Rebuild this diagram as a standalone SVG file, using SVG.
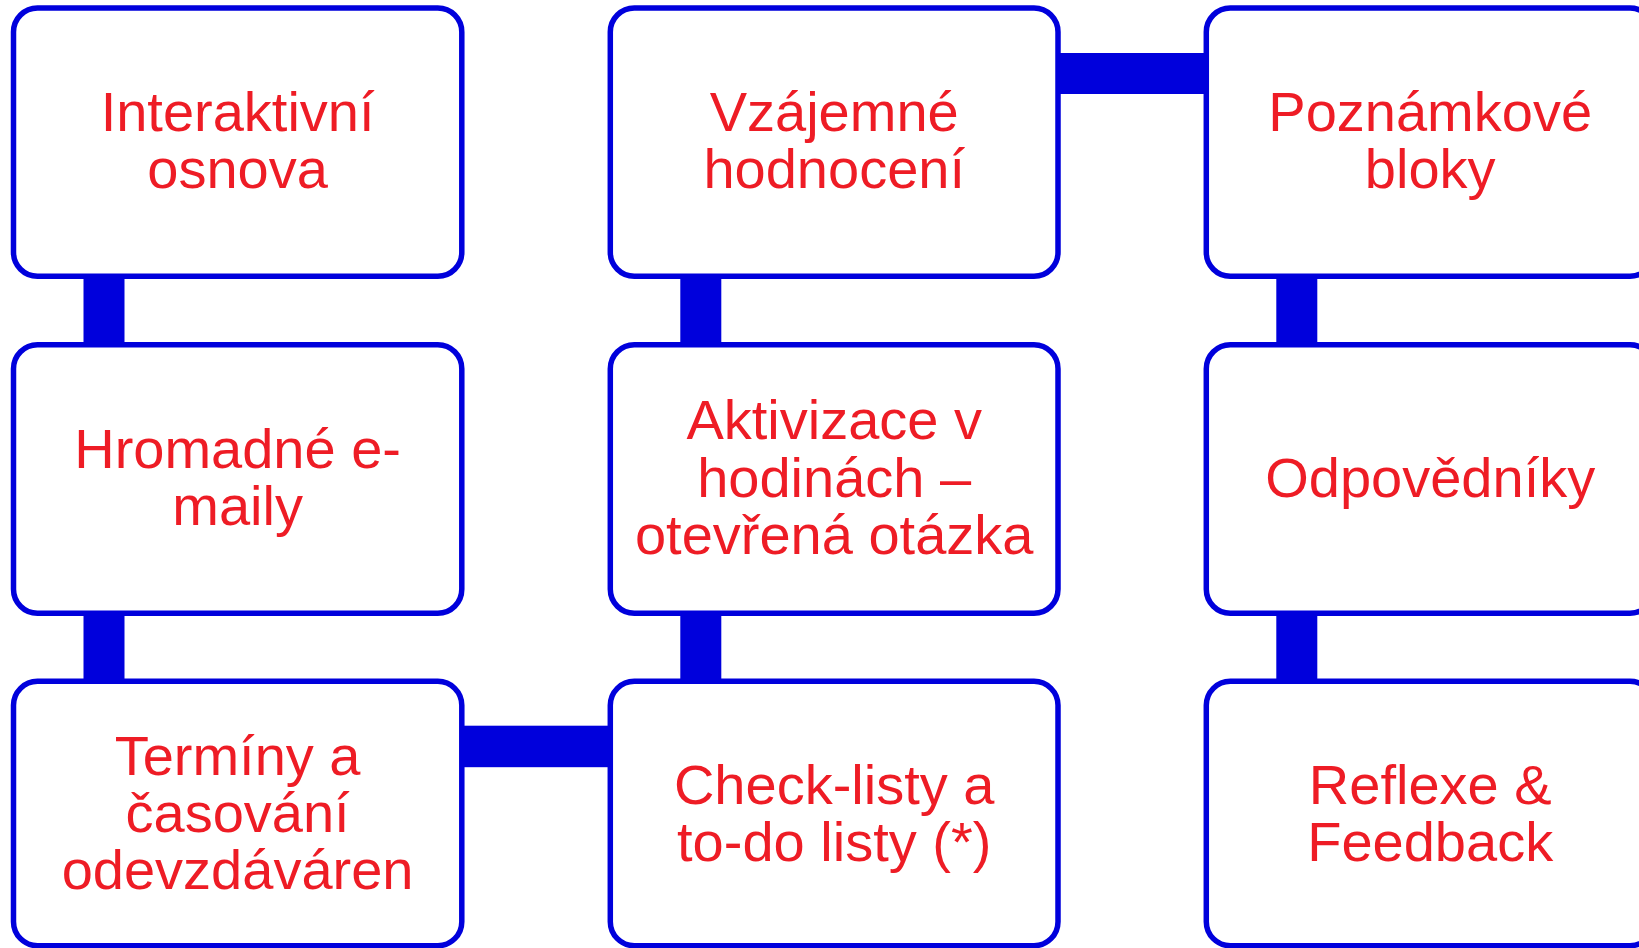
<svg xmlns="http://www.w3.org/2000/svg" width="1639" height="948" viewBox="0 0 1639 948">
<style>
.box{fill:#fff;stroke:#0000DC;stroke-width:5.5}
.con{fill:#0000DC}
.t{font-family:"Liberation Sans",Arial,sans-serif;font-size:56px;fill:#EE1C25;text-anchor:middle}
</style>
<rect width="1639" height="948" fill="#fff"/>
<g id="connectors">
<rect class="con" x="83.5" y="276" width="41" height="69"/>
<rect class="con" x="83.5" y="613" width="41" height="69"/>
<rect class="con" x="680.3" y="276" width="41" height="69"/>
<rect class="con" x="680.3" y="613" width="41" height="69"/>
<rect class="con" x="1276.3" y="276" width="41" height="69"/>
<rect class="con" x="1276.3" y="613" width="41" height="69"/>
<rect class="con" x="1058" y="53" width="148.3" height="41"/>
<rect class="con" x="461.8" y="725.7" width="148.5" height="41.5"/>
</g>
<g id="n1"><rect class="box" x="13.5" y="8" width="448.3" height="268.3" rx="24"/>
<text class="t"><tspan x="237.6" y="131">Interaktivní</tspan><tspan x="237.6" y="188">osnova</tspan></text></g>
<g id="n2"><rect class="box" x="610.3" y="8" width="447.7" height="268.3" rx="24"/>
<text class="t"><tspan x="834.2" y="131">Vzájemné</tspan><tspan x="834.2" y="188">hodnocení</tspan></text></g>
<g id="n3"><rect class="box" x="1206.3" y="8" width="447.7" height="268.3" rx="24"/>
<text class="t"><tspan x="1430.2" y="131">Poznámkové</tspan><tspan x="1430.2" y="188">bloky</tspan></text></g>
<g id="n4"><rect class="box" x="13.5" y="344.7" width="448.3" height="268.6" rx="24"/>
<text class="t"><tspan x="237.6" y="468">Hromadné e-</tspan><tspan x="237.6" y="525">maily</tspan></text></g>
<g id="n5"><rect class="box" x="610.3" y="344.7" width="447.7" height="268.6" rx="24"/>
<text class="t"><tspan x="834.2" y="439">Aktivizace v</tspan><tspan x="834.2" y="496.5">hodinách –</tspan><tspan x="834.2" y="554">otevřená otázka</tspan></text></g>
<g id="n6"><rect class="box" x="1206.3" y="344.7" width="447.7" height="268.6" rx="24"/>
<text class="t"><tspan x="1430.2" y="496.5">Odpovědníky</tspan></text></g>
<g id="n7"><rect class="box" x="13.5" y="681.3" width="448.3" height="264.4" rx="24"/>
<text class="t"><tspan x="237.6" y="775">Termíny a</tspan><tspan x="237.6" y="832">časování</tspan><tspan x="237.6" y="889">odevzdáváren</tspan></text></g>
<g id="n8"><rect class="box" x="610.3" y="681.3" width="447.7" height="264.4" rx="24"/>
<text class="t"><tspan x="834.2" y="803.5">Check-listy a</tspan><tspan x="834.2" y="860.5">to-do listy (*)</tspan></text></g>
<g id="n9"><rect class="box" x="1206.3" y="681.3" width="447.7" height="264.4" rx="24"/>
<text class="t"><tspan x="1430.2" y="803.5">Reflexe &amp;</tspan><tspan x="1430.2" y="860.5">Feedback</tspan></text></g>
</svg>
